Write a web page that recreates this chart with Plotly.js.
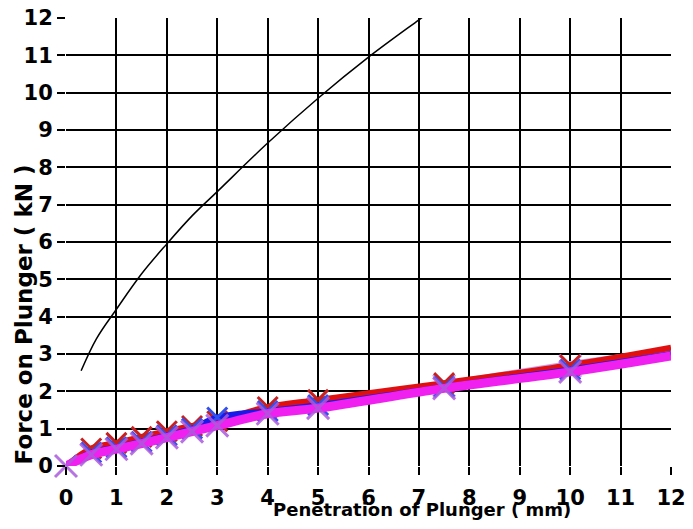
<!DOCTYPE html>
<html>
<head>
<meta charset="utf-8">
<script src="https://cdn.plot.ly/plotly-3.0.1.min.js"></script>
<style>html,body{margin:0;padding:0;background:#fff;}#chart{width:693px;height:529px;}</style>
</head>
<body>
<div id="chart"></div>
<script>
// Penetration (mm)
const xPts = [0, 0.5, 1, 1.5, 2, 2.5, 3, 4, 5, 7.5, 10, 12];
// Force (kN) series
const redY = [0, 0.47, 0.62, 0.78, 0.93, 1.07, 1.2, 1.58, 1.77, 2.22, 2.7, 3.17];
const blueY = [0, 0.36, 0.5, 0.65, 0.82, 1.0, 1.3, 1.47, 1.63, 2.12, 2.58, 3.0];
const magentaY = [0, 0.3, 0.45, 0.6, 0.76, 0.92, 1.08, 1.4, 1.55, 2.08, 2.52, 2.95];
const lavX = [5, 7.5, 10, 12];
const lavY = [1.6, 2.15, 2.68, 3.05];
// black reference curve
const blackX = [0.3, 0.6, 1, 1.5, 2, 2.5, 3, 4, 5, 6, 7, 7.2];
const blackY = [2.55, 3.4, 4.2, 5.15, 5.95, 6.7, 7.35, 8.65, 9.85, 10.95, 11.95, 12.15];
const xTicks = [0,1,2,3,4,5,6,7,8,9,10,11,12];
const yTicks = [0,1,2,3,4,5,6,7,8,9,10,11,12];

// markers are shown at measured points only (not at the 12 mm end of the lines)
const nm = xPts.length - 1;
const mX = xPts.slice(0, nm);

const FONT = 'DejaVu Sans, Verdana, sans-serif';
function xMarker(color, size) {
  return {symbol: 'x-thin-open', size: size, color: color, line: {color: color, width: 3}};
}
const traces = [
  {x: lavX, y: lavY, mode: 'lines', line: {color: '#c79cf0', width: 10}},
  {x: lavX.slice(1, 3), y: lavY.slice(1, 3), mode: 'markers', marker: xMarker('#c9a4f0', 22)},
  {x: xPts, y: redY, mode: 'lines', line: {color: '#e01010', width: 6, shape: 'spline'}},
  {x: mX, y: redY.slice(0, nm), mode: 'markers', marker: xMarker('#c82020', 20)},
  {x: xPts, y: blueY, mode: 'lines', line: {color: '#1a1ae8', width: 6, shape: 'spline'}},
  {x: mX, y: blueY.slice(0, nm), mode: 'markers', marker: xMarker('#3050f0', 20)},
  {x: xPts, y: magentaY, mode: 'lines', line: {color: '#f020f0', width: 9, shape: 'spline'}},
  {x: mX, y: magentaY.slice(0, nm), mode: 'markers', cliponaxis: false,
   marker: xMarker('rgba(170,90,220,0.85)', 22)},
  {x: blackX, y: blackY, mode: 'lines', line: {color: '#000', width: 1.5, shape: 'spline'}}
];

const axisCommon = {
  showgrid: true, gridcolor: '#000', gridwidth: 2,
  zeroline: false, showline: false,
  ticks: 'outside', ticklen: 8, tickwidth: 2, tickcolor: '#000',
  tickfont: {family: FONT, size: 21, color: '#000', weight: 'bold'},
  tickmode: 'array'
};

const layout = {
  width: 693, height: 529,
  margin: {l: 66, r: 22, t: 18, b: 63},
  paper_bgcolor: '#fff', plot_bgcolor: '#fff',
  showlegend: false,
  xaxis: Object.assign({}, axisCommon, {range: [0, 12], tickvals: xTicks, ticktext: xTicks.map(String), ticklabelstandoff: 5}),
  yaxis: Object.assign({}, axisCommon, {range: [0, 12], tickvals: yTicks, ticktext: yTicks.map(String)}),
  annotations: [
    {text: 'Penetration of Plunger ( mm)', xref: 'paper', yref: 'paper',
     x: 0.588, y: -0.098, xanchor: 'center', yanchor: 'middle', showarrow: false,
     font: {family: FONT, size: 18, color: '#000', weight: 'bold'}},
    {text: 'Force on Plunger ( kN )', xref: 'paper', yref: 'paper',
     x: -0.069, y: 0.339, xanchor: 'center', yanchor: 'middle', textangle: -90, showarrow: false,
     font: {family: FONT, size: 23, color: '#000', weight: 'bold'}}
  ]
};

Plotly.newPlot('chart', traces, layout, {displayModeBar: false, staticPlot: true});
</script>
</body>
</html>
